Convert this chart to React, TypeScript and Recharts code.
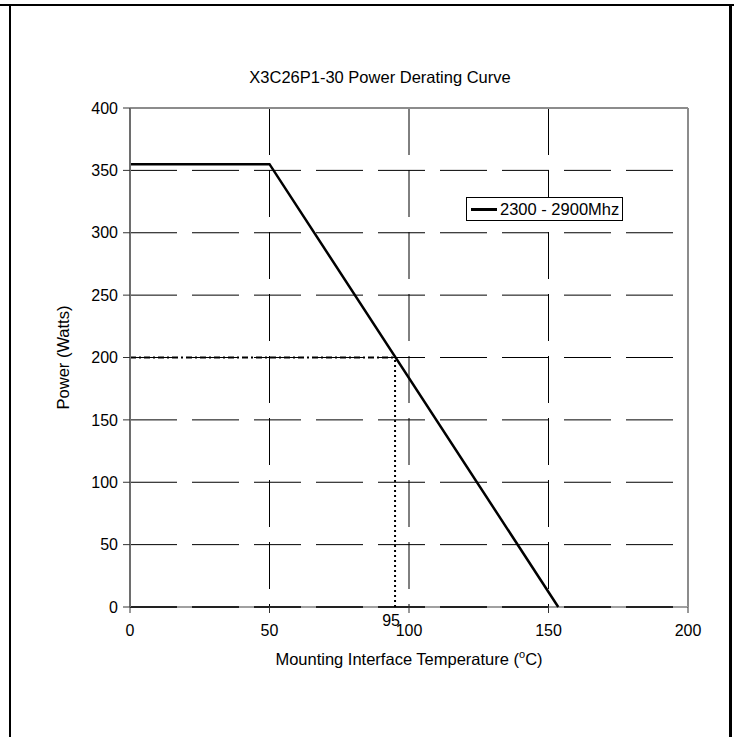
import React from 'react';
import {
  LineChart,
  Line,
  XAxis,
  YAxis,
  CartesianGrid,
  ReferenceLine,
  Legend,
} from 'recharts';

// ---- data ----
const temperatures = [0, 50, 153.5];
const powerWatts = [355, 355, 0];
const seriesName = '2300 - 2900Mhz';
const xTicks = [0, 50, 100, 150, 200];
const yTicks = [0, 50, 100, 150, 200, 250, 300, 350, 400];
const markTemp = 95;
const markPower = 200;
const chartTitle = 'X3C26P1-30 Power Derating Curve';
const xLabel = 'Mounting Interface Temperature (';
const yLabel = 'Power (Watts)';

const data = temperatures.map((t, i) => ({ temp: t, power: powerWatts[i] }));

const FONT = '"Liberation Sans", Arial, sans-serif';

const YLabel = (props: any) => {
  const vb = props.viewBox || {};
  const cx = vb.x + 23;
  const cy = vb.y + vb.height / 2;
  return (
    <text
      x={cx}
      y={cy}
      transform={`rotate(-90 ${cx} ${cy})`}
      textAnchor="middle"
      dominantBaseline="central"
      fontSize={16.5}
      fontFamily={FONT}
      fill="#000"
    >
      {yLabel}
    </text>
  );
};

const XLabel = (props: any) => {
  const vb = props.viewBox || {};
  return (
    <text
      x={vb.x + vb.width / 2}
      y={vb.y + 58}
      textAnchor="middle"
      fontSize={16.5}
      fontFamily={FONT}
      fill="#000"
    >
      {xLabel}
      <tspan dy={-7} fontSize={11}>o</tspan>
      <tspan dy={7}>C)</tspan>
    </text>
  );
};

const MarkLabel = (props: any) => {
  const vb = props.viewBox || {};
  return (
    <text
      x={vb.x - 4}
      y={vb.y + vb.height + 19}
      textAnchor="middle"
      fontSize={16}
      fontFamily={FONT}
      fill="#000"
    >
      {String(markTemp)}
    </text>
  );
};

const LegendBox = (props: any) => {
  const payload = props.payload || [];
  return (
    <div>
      {payload.map((p: any) => (
        <div
          key={p.value}
          style={{
            display: 'flex',
            alignItems: 'center',
            border: '1px solid #000',
            background: '#fff',
            padding: '0 3px 0 4px',
            height: 22,
            fontFamily: FONT,
            fontSize: 16.5,
            color: '#000',
            whiteSpace: 'nowrap',
          }}
        >
          <span
            style={{
              display: 'inline-block',
              width: 26,
              height: 3,
              background: p.color,
              marginRight: 3,
            }}
          />
          <span>{p.value}</span>
        </div>
      ))}
    </div>
  );
};

export default function App() {
  return (
    <div
      style={{
        position: 'absolute',
        left: 0,
        top: 0,
        width: 734,
        height: 737,
        background: '#fff',
        fontFamily: FONT,
        overflow: 'hidden',
      }}
    >
      {/* frame */}
      <div style={{ position: 'absolute', left: 0, top: 4, width: 734, height: 2, background: '#000' }} />
      <div style={{ position: 'absolute', left: 9, top: 4, width: 2, height: 733, background: '#000' }} />
      <div style={{ position: 'absolute', left: 729, top: 4, width: 3, height: 733, background: '#000' }} />
      {/* title */}
      <div
        style={{
          position: 'absolute',
          left: 0,
          top: 69,
          width: 760,
          textAlign: 'center',
          fontSize: 16.5,
          lineHeight: '16.5px',
          color: '#000',
          fontFamily: FONT,
          whiteSpace: 'nowrap',
        }}
      >
        {chartTitle}
      </div>
      <div style={{ position: 'absolute', left: 0, top: 0 }}>
        <LineChart
          width={734}
          height={737}
          data={data}
          margin={{ top: 108, right: 46, bottom: 60, left: 40 }}
        >
          <CartesianGrid stroke="#000" strokeDasharray="47 15" strokeWidth={1} />
          <XAxis
            dataKey="temp"
            type="number"
            domain={[0, 200]}
            ticks={xTicks}
            interval={0}
            height={70}
            axisLine={false}
            tickLine={{ stroke: '#333' }}
            tickSize={6}
            tickMargin={12}
            tick={{ fontSize: 16, fill: '#000', fontFamily: FONT }}
            label={<XLabel />}
          />
          <YAxis
            type="number"
            domain={[0, 400]}
            ticks={yTicks}
            interval={0}
            width={90}
            axisLine={{ stroke: '#6e6e6e', strokeWidth: 2 }}
            tickLine={{ stroke: '#333' }}
            tickSize={7}
            tickMargin={5}
            tick={{ fontSize: 16, fill: '#000', fontFamily: FONT }}
            label={<YLabel />}
          />
          <ReferenceLine y={400} stroke="#8c8c8c" strokeWidth={2} />
          <ReferenceLine x={200} stroke="#8c8c8c" strokeWidth={2} />
          <ReferenceLine y={0} stroke="#a0a0a0" strokeWidth={2} />
          <ReferenceLine y={0} stroke="#222" strokeWidth={2} strokeDasharray="47 15" />
          <ReferenceLine
            segment={[
              { x: 0, y: markPower },
              { x: markTemp, y: markPower },
            ]}
            stroke="#000"
            strokeWidth={2}
            strokeDasharray="6 3 2 3"
          />
          <ReferenceLine
            segment={[
              { x: markTemp, y: 0 },
              { x: markTemp, y: markPower },
            ]}
            stroke="#000"
            strokeWidth={2}
            strokeDasharray="2 3"
            label={<MarkLabel />}
          />
          <Line
            type="linear"
            dataKey="power"
            name={seriesName}
            stroke="#000"
            strokeWidth={2.5}
            dot={false}
            activeDot={false}
            isAnimationActive={false}
          />
          <Legend
            layout="vertical"
            align="center"
            verticalAlign="middle"
            content={<LegendBox />}
            wrapperStyle={{ left: 466, top: 197, width: 'auto' }}
          />
        </LineChart>
      </div>
    </div>
  );
}
